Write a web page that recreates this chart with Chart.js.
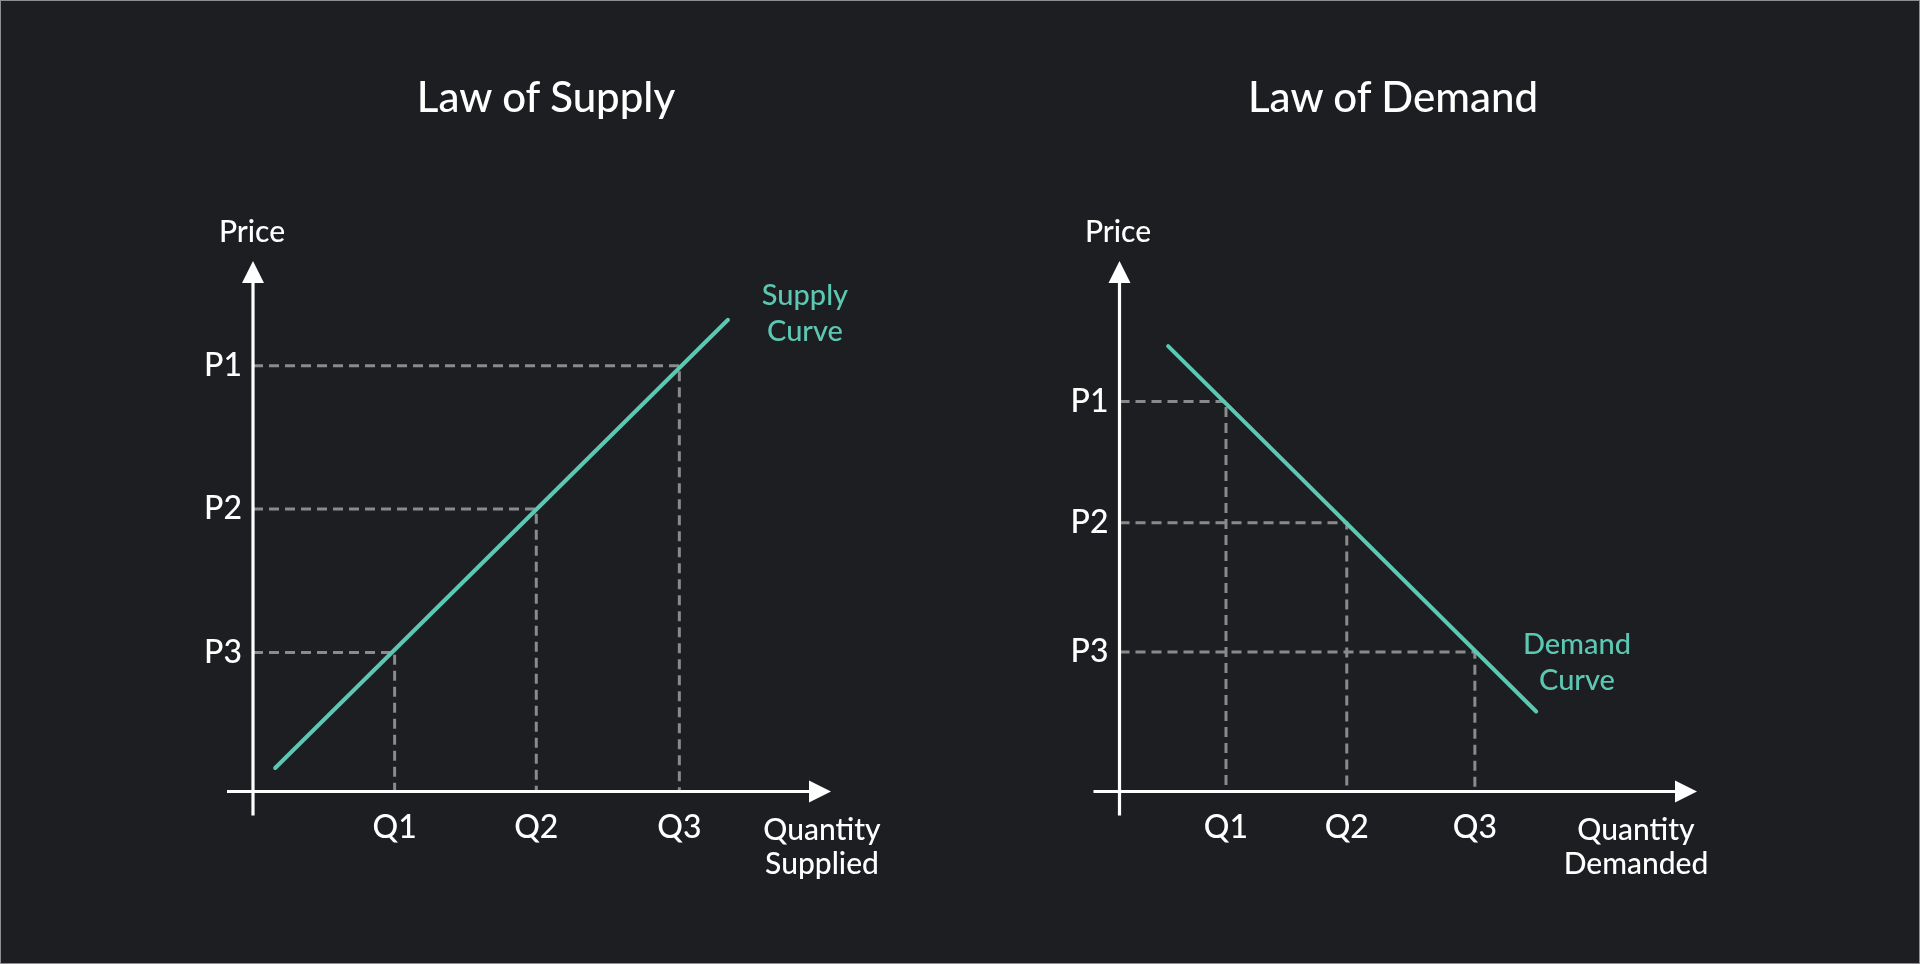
<!DOCTYPE html>
<html>
<head>
<meta charset="utf-8">
<title>Law of Supply / Law of Demand</title>
<script src="https://cdn.jsdelivr.net/npm/chart.js@4.4.1/dist/chart.umd.min.js"></script>
<style>
  html, body { margin: 0; padding: 0; background: #1d1e21; }
  #page { position: relative; width: 1920px; height: 964px; overflow: hidden; font-family: Lato, "Noto Sans", sans-serif; font-weight: 500; color: #ffffff; }
  #frame { position: absolute; left: 0; top: 0; width: 1920px; height: 964px; box-sizing: border-box; border: 1px solid #8e8e8e; pointer-events: none; }
  .box { position: absolute; top: 0; width: 960px; height: 964px; }
  .txt { position: absolute; white-space: nowrap; transform: translateX(-50%); text-align: center; }
  .title { font-size: 42px; line-height: 42px; }
  .axis { font-size: 30px; line-height: 34px; }
  .curve { font-size: 29px; line-height: 36px; color: #5cc8b4; }
</style>
</head>
<body>
<div id="page">
  <div class="box" style="left:0"><canvas id="supply" width="960" height="964"></canvas></div>
  <div class="box" style="left:960px"><canvas id="demand" width="960" height="964"></canvas></div>

  <div class="txt title" style="left:546px; top:75px">Law of Supply</div>
  <div class="txt axis" style="left:252px; top:213px">Price</div>
  <div class="txt curve" style="left:805px; top:276px">Supply<br>Curve</div>
  <div class="txt axis" style="left:822px; top:811px">Quantity<br>Supplied</div>

  <div class="txt title" style="left:1393px; top:75px">Law of Demand</div>
  <div class="txt axis" style="left:1118px; top:213px">Price</div>
  <div class="txt curve" style="left:1577px; top:625px">Demand<br>Curve</div>
  <div class="txt axis" style="left:1636px; top:811px">Quantity<br>Demanded</div>

  <div id="frame"></div>
</div>

<script>
// tick labels
const qLabels = ["Q1", "Q2", "Q3"];
const pLabels = ["P1", "P2", "P3"];

// supply chart (same units on both axes)
const supplyQ = [0.99, 1.98, 2.98];
const supplyP = [2.97, 1.97, 0.97];
const supplyCurveX = [0.155, 3.32];
const supplyCurveY = [0.164, 3.29];

// demand chart
const demandQ = [0.745, 1.59, 2.486];
const demandP = [2.72, 1.875, 0.973];
const demandCurveX = [0.34, 2.915];
const demandCurveY = [3.106, 0.558];

const axisMax = { x: 4.04, y: 3.7 };

const teal = "#5cc8b4";
const dashGray = "#8a8a8a";
const white = "#ffffff";

function toPoints(xs, ys) {
  return xs.map((x, i) => ({ x: x, y: ys[i] }));
}

// dashed guide: from the price axis over to the curve, then down to the quantity axis
function guide(q, p) {
  return {
    data: toPoints([0, q, q], [p, p, 0]),
    borderColor: dashGray,
    borderWidth: 3,
    borderDash: [10, 6],
    pointRadius: 0,
    showLine: true,
  };
}

// white axes with arrow heads, drawn through the scales
const arrowAxes = {
  id: "arrowAxes",
  afterDatasetsDraw(chart) {
    const { ctx, scales } = chart;
    const x0 = scales.x.getPixelForValue(0);
    const y0 = scales.y.getPixelForValue(0);
    const top = scales.y.getPixelForValue(scales.y.max);
    const right = scales.x.getPixelForValue(scales.x.max);
    const head = 22;

    ctx.save();
    ctx.strokeStyle = white;
    ctx.fillStyle = white;
    ctx.lineWidth = 3.2;

    ctx.beginPath();
    ctx.moveTo(x0, y0 + 24);
    ctx.lineTo(x0, top + head);
    ctx.moveTo(x0 - 26, y0);
    ctx.lineTo(right - head, y0);
    ctx.stroke();

    ctx.beginPath();
    ctx.moveTo(x0, top);
    ctx.lineTo(x0 - head / 2, top + head);
    ctx.lineTo(x0 + head / 2, top + head);
    ctx.closePath();
    ctx.fill();

    ctx.beginPath();
    ctx.moveTo(right, y0);
    ctx.lineTo(right - head, y0 - head / 2);
    ctx.lineTo(right - head, y0 + head / 2);
    ctx.closePath();
    ctx.fill();
    ctx.restore();
  },
};

function buildChart(canvasId, qVals, pVals, curveX, curveY, pairs, padding) {
  const datasets = [
    {
      data: toPoints(curveX, curveY),
      borderColor: teal,
      borderWidth: 4,
      borderCapStyle: "round",
      pointRadius: 0,
      showLine: true,
    },
  ];
  pairs.forEach(([qi, pi]) => datasets.push(guide(qVals[qi], pVals[pi])));

  const tickFont = { family: "Lato", size: 32, weight: 500 };

  return new Chart(document.getElementById(canvasId), {
    type: "scatter",
    data: { datasets: datasets },
    options: {
      responsive: false,
      animation: false,
      events: [],
      layout: { padding: padding },
      plugins: { legend: { display: false }, tooltip: { enabled: false } },
      scales: {
        x: {
          type: "linear",
          min: 0,
          max: axisMax.x,
          afterFit(scale) { scale.height = 60; },
          afterBuildTicks(scale) { scale.ticks = qVals.map((v) => ({ value: v })); },
          ticks: {
            callback: (v, i) => qLabels[i],
            color: white,
            font: tickFont,
            padding: 17,
            autoSkip: false,
            maxRotation: 0,
          },
          grid: { display: false, drawTicks: false },
          border: { display: false },
        },
        y: {
          type: "linear",
          min: 0,
          max: axisMax.y,
          afterFit(scale) { scale.width = 60; },
          afterBuildTicks(scale) { scale.ticks = pVals.map((v) => ({ value: v })); },
          ticks: {
            callback: (v, i) => pLabels[i],
            color: white,
            font: tickFont,
            padding: 11,
            autoSkip: false,
          },
          grid: { display: false, drawTicks: false },
          border: { display: false },
        },
      },
    },
    plugins: [arrowAxes],
  });
}

function draw() {
  // supply: Q1 meets P3, Q2 meets P2, Q3 meets P1
  buildChart("supply", supplyQ, supplyP, supplyCurveX, supplyCurveY,
    [[0, 2], [1, 1], [2, 0]],
    { left: 193, right: 129, top: 261, bottom: 112.5 });

  // demand: Q1 meets P1, Q2 meets P2, Q3 meets P3
  buildChart("demand", demandQ, demandP, demandCurveX, demandCurveY,
    [[0, 0], [1, 1], [2, 2]],
    { left: 99.5, right: 223, top: 261, bottom: 112.5 });
}

document.fonts.load("500 32px Lato").then(draw, draw);
</script>
</body>
</html>
